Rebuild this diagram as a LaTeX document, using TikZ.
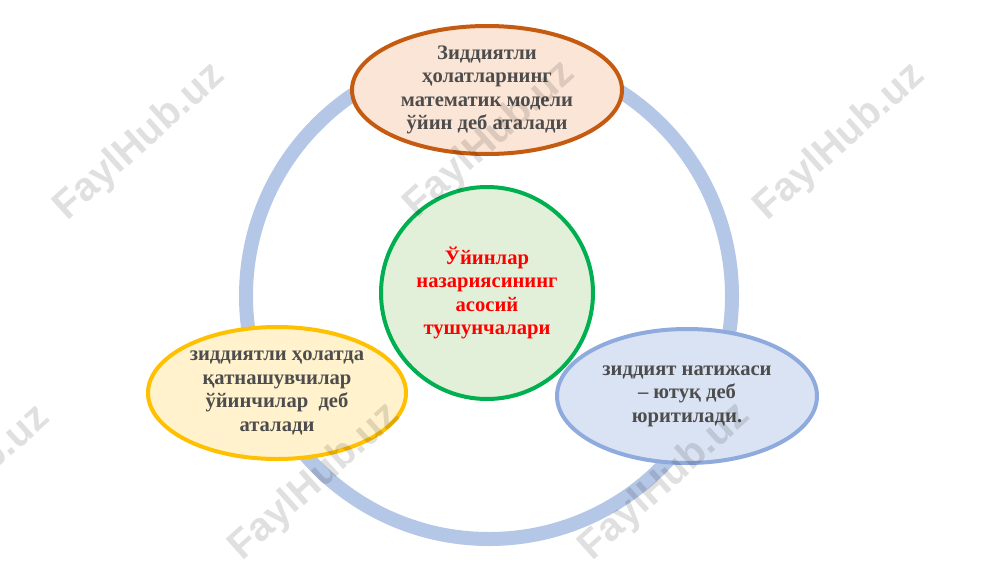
\documentclass[tikz,border=0pt]{standalone}
\usepackage{fontspec}
\setmainfont{Liberation Serif}
\newfontfamily\wmfont{Liberation Sans}
\usetikzlibrary{shapes.geometric}
\definecolor{ringc}{HTML}{B4C7E7}
\definecolor{topb}{HTML}{C55A11}
\definecolor{topf}{HTML}{FBE5D6}
\definecolor{cenb}{HTML}{00B050}
\definecolor{cenf}{HTML}{E2F0D9}
\definecolor{lefb}{HTML}{FFC000}
\definecolor{leff}{HTML}{FFF2CC}
\definecolor{rigb}{HTML}{8FAADC}
\definecolor{rigf}{HTML}{DAE3F3}
\definecolor{txt}{HTML}{4D4D4D}
\tikzset{
  bubble/.style={ellipse, line width=4pt, align=center, inner sep=0pt,
    font=\fontsize{20.6}{23.4}\selectfont\bfseries, text=txt},
  wmark/.style={font=\wmfont\bfseries\fontsize{40}{40}\selectfont, text=black, text opacity=0.12, rotate=42}
}
\begin{document}
\begin{tikzpicture}[x=1pt,y=-1pt]
\useasboundingbox (0,0) rectangle (1000,562);
\fill[white] (0,0) rectangle (1000,562);
\draw[ringc, line width=14pt] (489,296) circle (243pt);
\node[bubble, draw=topb, fill=topf, minimum width=270pt, minimum height=128pt] (top) at (487,90)
  {Зиддиятли\\ ҳолатларнинг\\ математик модели\\ ўйин деб аталади};
\node[bubble, draw=cenb, fill=cenf, circle, minimum size=212pt, text=red] (cen) at (487,293)
  {Ўйинлар\\ назариясининг\\ асосий\\ тушунчалари};
\node[bubble, draw=lefb, fill=leff, minimum width=258pt, minimum height=132pt] (lef) at (277,393)
  {зиддиятли ҳолатда\\ қатнашувчилар\\ ўйинчилар\ \ деб\\ аталади};
\node[bubble, draw=rigb, fill=rigf, minimum width=260pt, minimum height=134pt] (rig) at (687,396)
  {зиддият натижаси\\ – ютуқ деб\\ юритилади.};
\foreach \i/\x/\y in {1/140/142, 2/490/140, 3/840/142, 4/-35/484, 5/315/482, 6/665/482}
  \node[wmark] (wm\i) at (\x,\y) {FaylHub.uz};
\end{tikzpicture}
\end{document}
